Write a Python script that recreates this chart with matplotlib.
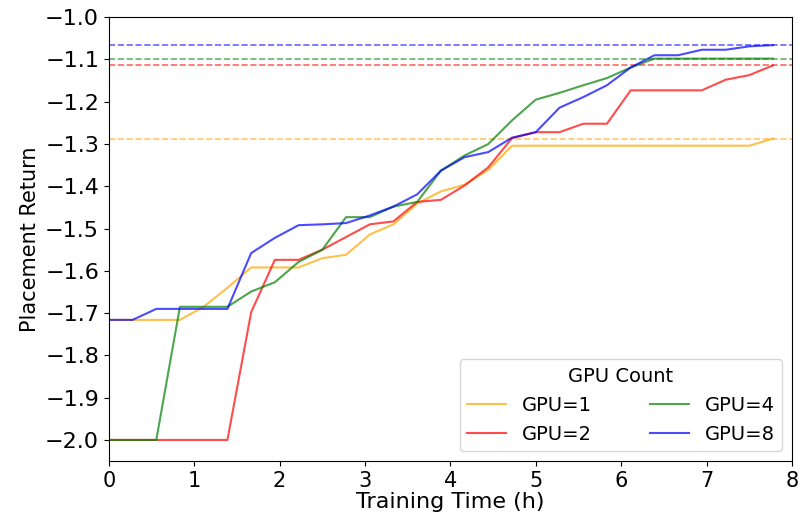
import matplotlib.pyplot as plt
from matplotlib.ticker import MultipleLocator

# Training time in hours (one checkpoint every 1000 s)
time_h = [0.0, 0.278, 0.556, 0.833, 1.111, 1.389, 1.667, 1.944, 2.222, 2.5,
          2.778, 3.056, 3.333, 3.611, 3.889, 4.167, 4.444, 4.722, 5.0, 5.278,
          5.556, 5.833, 6.111, 6.389, 6.667, 6.944, 7.222, 7.5, 7.778]

gpu1 = [-1.716, -1.716, -1.716, -1.716, -1.685, -1.640, -1.592, -1.592, -1.592, -1.570,
        -1.562, -1.514, -1.490, -1.441, -1.412, -1.396, -1.361, -1.304, -1.304, -1.304,
        -1.304, -1.304, -1.304, -1.304, -1.304, -1.304, -1.304, -1.304, -1.287]
gpu2 = [-2.0, -2.0, -2.0, -2.0, -2.0, -2.0, -1.698, -1.574, -1.574, -1.550,
        -1.520, -1.490, -1.483, -1.437, -1.432, -1.398, -1.355, -1.286, -1.272, -1.272,
        -1.252, -1.252, -1.173, -1.173, -1.173, -1.173, -1.148, -1.137, -1.114]
gpu4 = [-2.0, -2.0, -2.0, -1.685, -1.685, -1.685, -1.649, -1.627, -1.579, -1.550,
        -1.473, -1.473, -1.448, -1.437, -1.363, -1.327, -1.300, -1.244, -1.195, -1.179,
        -1.161, -1.144, -1.119, -1.098, -1.098, -1.098, -1.098, -1.098, -1.098]
gpu8 = [-1.716, -1.716, -1.690, -1.690, -1.690, -1.690, -1.558, -1.522, -1.492, -1.490,
        -1.487, -1.469, -1.448, -1.419, -1.363, -1.331, -1.319, -1.285, -1.272, -1.214,
        -1.189, -1.161, -1.119, -1.090, -1.090, -1.077, -1.077, -1.069, -1.066]

series = [('GPU=1', gpu1, 'orange'), ('GPU=2', gpu2, 'red'),
          ('GPU=4', gpu4, 'green'), ('GPU=8', gpu8, 'blue')]

fig = plt.figure(figsize=(8, 5.21), dpi=100)
ax = fig.add_axes([0.136, 0.115, 0.854, 0.852])

for label, values, color in series:
    ax.plot(time_h, values, color=color, alpha=0.7, linewidth=1.5, label=label)
    # best return reached, as a dashed reference line
    ax.axhline(max(values), color=color, alpha=0.6, linestyle='--', linewidth=1.2)

ax.set_xlim(0, 8)
ax.set_ylim(-2.05, -1.0)
ax.yaxis.set_major_locator(MultipleLocator(0.1))
ax.set_xlabel('Training Time (h)', fontsize=16, labelpad=1)
ax.set_ylabel('Placement Return', fontsize=15, labelpad=4)
ax.tick_params(axis='x', labelsize=15)
ax.tick_params(axis='y', labelsize=16)
ax.legend(title='GPU Count', ncol=2, loc='lower right', fontsize=14,
          title_fontsize=14, columnspacing=3)

plt.savefig('out.png', dpi=100)
